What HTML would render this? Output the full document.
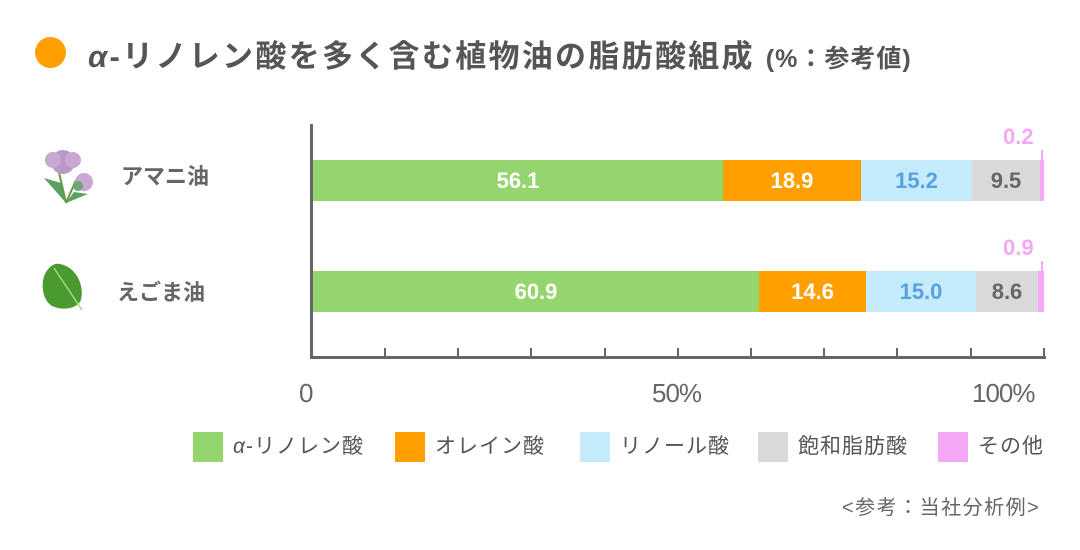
<!DOCTYPE html>
<html><head><meta charset="utf-8"><style>
body{margin:0;width:1080px;height:550px;background:#fff;font-family:"Liberation Sans","Noto Sans CJK JP",sans-serif;position:relative;overflow:hidden;color:#555}
.a{position:absolute}
.seg{position:absolute;height:41px;font-weight:bold;font-size:22px;line-height:41px;text-align:center}
.lg{position:absolute;top:432px;height:30px;font-size:21px;line-height:30px;color:#555;letter-spacing:1px}
.lg i{display:inline-block;width:30px;height:30px;vertical-align:top;margin-right:10px}
</style></head><body>
<div class="a" style="left:35px;top:37px;width:31px;height:31px;border-radius:50%;background:#ffa000"></div>
<div class="a" style="left:88px;top:31px;font-size:31px;letter-spacing:2.3px;font-weight:bold;color:#555;white-space:nowrap"><i>α</i>-リノレン酸を多く含む植物油の脂肪酸組成 <span style="font-size:25px;letter-spacing:1px">(%：参考値)</span></div>

<svg class="a" style="left:36px;top:148px" width="60" height="60" viewBox="0 0 60 60">
<path d="M8 30 L30 55 L25 35 Z" fill="#5aa060"/><path d="M30 55 L52 46 L38 44Z" fill="#5aa060"/>
<path d="M30 55 L22 20 M30 55 L40 32" stroke="#6a9a40" stroke-width="2"/>
<circle cx="27" cy="14" r="12" fill="#b89ac8"/><circle cx="17" cy="12" r="8" fill="#c8a8d0"/><circle cx="37" cy="12" r="8" fill="#c8a8d0"/>
<circle cx="48" cy="34" r="9" fill="#c8a8d0"/><circle cx="42" cy="38" r="5" fill="#6aaa70"/>
</svg>
<svg class="a" style="left:40px;top:262px" width="45" height="50" viewBox="0 0 45 50">
<path d="M20 2 C40 6 45 30 40 40 C34 48 20 48 12 44 C2 38 0 20 6 10 C10 4 14 1 20 2Z" fill="#4a9a30"/>
<path d="M14 6 L42 48" stroke="#a8d880" stroke-width="1.5"/>
</svg>
<div class="a" style="left:121px;top:159px;font-size:22px;font-weight:bold;color:#666">アマニ油</div>
<div class="a" style="left:117px;top:275px;font-size:22px;font-weight:bold;color:#666">えごま油</div>

<div class="a" style="left:310px;top:124px;width:3px;height:235px;background:#666"></div>
<div class="a" style="left:310px;top:356px;width:736px;height:3px;background:#666"></div>
<svg class="a" style="left:0;top:0" width="1080" height="550">
<g stroke="#666" stroke-width="2">
<line x1="385" y1="348" x2="385" y2="357"/><line x1="458" y1="348" x2="458" y2="357"/><line x1="531" y1="348" x2="531" y2="357"/><line x1="605" y1="348" x2="605" y2="357"/><line x1="678" y1="348" x2="678" y2="357"/><line x1="751" y1="348" x2="751" y2="357"/><line x1="824" y1="348" x2="824" y2="357"/><line x1="897" y1="348" x2="897" y2="357"/><line x1="971" y1="348" x2="971" y2="357"/><line x1="1044" y1="348" x2="1044" y2="357"/>
</g>
<line x1="1042" y1="150" x2="1042" y2="165" stroke="#f5a8f5" stroke-width="2"/>
<line x1="1042" y1="261" x2="1042" y2="276" stroke="#f5a8f5" stroke-width="2"/>
</svg>
<div class="a" style="left:299px;top:378px;font-size:26px;color:#666">0</div>
<div class="a" style="left:652px;top:378px;font-size:26px;color:#666;letter-spacing:-1px">50%</div>
<div class="a" style="left:972px;top:378px;font-size:26px;color:#666;letter-spacing:-1px">100%</div>

<div class="seg" style="top:160px;left:313px;width:410px;background:#95d56e;color:#fff">56.1</div>
<div class="seg" style="top:160px;left:723px;width:138px;background:#ffa000;color:#fff">18.9</div>
<div class="seg" style="top:160px;left:861px;width:111px;background:#c4ecfc;color:#5aa0e0">15.2</div>
<div class="seg" style="top:160px;left:972px;width:68px;background:#d9d9d9;color:#666">9.5</div>
<div class="seg" style="top:160px;left:1040px;width:4px;background:#f5a8f5"></div>
<div class="a" style="left:1003px;top:124px;font-size:22px;font-weight:bold;color:#f5a8f5">0.2</div>

<div class="seg" style="top:271px;left:313px;width:446px;background:#95d56e;color:#fff">60.9</div>
<div class="seg" style="top:271px;left:759px;width:107px;background:#ffa000;color:#fff">14.6</div>
<div class="seg" style="top:271px;left:866px;width:110px;background:#c4ecfc;color:#5aa0e0">15.0</div>
<div class="seg" style="top:271px;left:976px;width:62px;background:#d9d9d9;color:#666">8.6</div>
<div class="seg" style="top:271px;left:1038px;width:6px;background:#f5a8f5"></div>
<div class="a" style="left:1003px;top:235px;font-size:22px;font-weight:bold;color:#f5a8f5">0.9</div>

<div class="lg" style="left:193px"><i style="background:#95d56e"></i><em>α</em>-リノレン酸</div>
<div class="lg" style="left:395px"><i style="background:#ffa000"></i>オレイン酸</div>
<div class="lg" style="left:580px"><i style="background:#c4ecfc"></i>リノール酸</div>
<div class="lg" style="left:758px"><i style="background:#d9d9d9"></i>飽和脂肪酸</div>
<div class="lg" style="left:938px"><i style="background:#f5a8f5"></i>その他</div>
<div class="a" style="left:842px;top:491px;font-size:20px;letter-spacing:1.5px;color:#666">&lt;参考：当社分析例&gt;</div>
</body></html>
